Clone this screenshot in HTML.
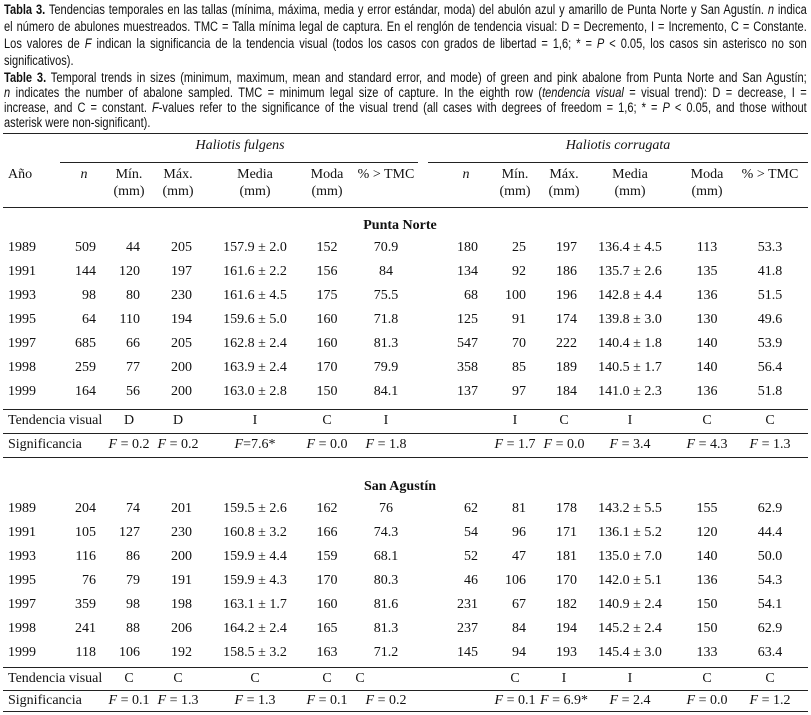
<!DOCTYPE html>
<html><head><meta charset="utf-8"><style>
body{margin:0;background:#fff;width:811px;height:715px;position:relative;overflow:hidden;color:#111}
.cl{position:absolute;left:4px;width:979px;font-family:"Liberation Sans",sans-serif;font-size:13.5px;line-height:16px;white-space:nowrap;transform-origin:0 50%;transform:scaleX(0.82);text-align:justify;text-align-last:justify}
.cl.last{text-align-last:left}
.t{position:absolute;font-family:"Liberation Serif",serif;font-size:14px;white-space:nowrap;transform:translate(-50%,-50%)}
.r{transform:translate(-100%,-50%)}
.l{transform:translate(0,-50%)}
.rule{position:absolute;height:1px;background:#222}
</style></head><body>
<div>
<div class="cl" style="top:2px"><b>Tabla 3.</b> Tendencias temporales en las tallas (mínima, máxima, media y error estándar, moda) del abulón azul y amarillo de Punta Norte y San Agustín. <i>n</i> indica</div>
<div class="cl" style="top:19px">el número de abulones muestreados. TMC = Talla mínima legal de captura. En el renglón de tendencia visual: D = Decremento, I = Incremento, C = Constante.</div>
<div class="cl" style="top:36px">Los valores de <i>F</i> indican la significancia de la tendencia visual (todos los casos con grados de libertad = 1,6; * = <i>P</i> &lt; 0.05, los casos sin asterisco no son</div>
<div class="cl last" style="top:53px">significativos).</div>
</div>
<div>
<div class="cl" style="top:70px"><b>Table 3.</b> Temporal trends in sizes (minimum, maximum, mean and standard error, and mode) of green and pink abalone from Punta Norte and San Agustín;</div>
<div class="cl" style="top:85px"><i>n</i> indicates the number of abalone sampled. TMC = minimum legal size of capture. In the eighth row (<i>tendencia visual</i> = visual trend): D = decrease, I =</div>
<div class="cl" style="top:100px">increase, and C = constant. <i>F</i>-values refer to the significance of the visual trend (all cases with degrees of freedom = 1,6; * = <i>P</i> &lt; 0.05, and those without</div>
<div class="cl last" style="top:115px">asterisk were non-significant).</div>
</div>
<div id="tbl"></div>
<script>
const years=["1989","1991","1993","1995","1997","1998","1999"];
const pnFul=[["509","44","205","157.9 ± 2.0","152","70.9"],["144","120","197","161.6 ± 2.2","156","84"],["98","80","230","161.6 ± 4.5","175","75.5"],["64","110","194","159.6 ± 5.0","160","71.8"],["685","66","205","162.8 ± 2.4","160","81.3"],["259","77","200","163.9 ± 2.4","170","79.9"],["164","56","200","163.0 ± 2.8","150","84.1"]];
const pnCor=[["180","25","197","136.4 ± 4.5","113","53.3"],["134","92","186","135.7 ± 2.6","135","41.8"],["68","100","196","142.8 ± 4.4","136","51.5"],["125","91","174","139.8 ± 3.0","130","49.6"],["547","70","222","140.4 ± 1.8","140","53.9"],["358","85","189","140.5 ± 1.7","140","56.4"],["137","97","184","141.0 ± 2.3","136","51.8"]];
const saFul=[["204","74","201","159.5 ± 2.6","162","76"],["105","127","230","160.8 ± 3.2","166","74.3"],["116","86","200","159.9 ± 4.4","159","68.1"],["76","79","191","159.9 ± 4.3","170","80.3"],["359","98","198","163.1 ± 1.7","160","81.6"],["241","88","206","164.2 ± 2.4","165","81.3"],["118","106","192","158.5 ± 3.2","163","71.2"]];
const saCor=[["62","81","178","143.2 ± 5.5","155","62.9"],["54","96","171","136.1 ± 5.2","120","44.4"],["52","47","181","135.0 ± 7.0","140","50.0"],["46","106","170","142.0 ± 5.1","136","54.3"],["231","67","182","140.9 ± 2.4","150","54.1"],["237","84","194","145.2 ± 2.4","150","62.9"],["145","94","193","145.4 ± 3.0","133","63.4"]];
const pnTrend=["D","D","I","C","I","I","C","I","C","C"];
const pnSig=["0.2","0.2","7.6*","0.0","1.8","1.7","0.0","3.4","4.3","1.3"];
const saTrend=["C","C","C","C","C","C","I","I","C","C"];
const saSig=["0.1","1.3","1.3","0.1","0.2","0.1","6.9*","2.4","0.0","1.2"];

const T=document.getElementById('tbl');
function txt(s,x,y,cls,html){const d=document.createElement('div');d.className='t '+(cls||'');d.style.left=x+'px';d.style.top=y+'px';if(html)d.innerHTML=s;else d.textContent=s;T.appendChild(d);return d;}
function rule(x1,x2,y){const d=document.createElement('div');d.className='rule';d.style.left=x1+'px';d.style.width=(x2-x1)+'px';d.style.top=y+'px';T.appendChild(d);return d;}
const colsL=[[96,'r'],[140,'r'],[192,'r'],[255,''],[327,''],[386,'']];
const colsR=[[478,'r'],[526,'r'],[577,'r'],[630,''],[707,''],[770,'']];
const trendX=[129,178,255,327,386,515,564,630,707,770];
const saTrendX=[129,178,255,327,360,515,564,630,707,770];

let e;
e=rule(3,808,133);
e=rule(60,418,162);
e=rule(428,808,162);
e=rule(3,808,207);
e=txt('<i>Haliotis fulgens</i>',240,146,'',1);
e=txt('<i>Haliotis corrugata</i>',618,146,'',1);
e=txt('Año',8,175,'l');
const hdr=[['<i>n</i>',84,466],['Mín.',129,515],['Máx.',178,564],['Media',255,630],['Moda',327,707],['% &gt; TMC',386,770]];
hdr.forEach((h,i)=>{
  e=txt(h[0],h[1],175,'',1);
  e=txt(h[0],h[2],175,'',1);
  if(i>=1&&i<=4){
    e=txt('(mm)',h[1],192);
    e=txt('(mm)',h[2],192);
  }
});
function section(title,ty,y0,ful,cor,trend,sig,tx,rTop){
  e=txt('<b>'+title+'</b>',400,ty,'',1);
  years.forEach((yr,i)=>{
    const y=y0+i*24;
    e=txt(yr,8,y,'l');
    ful[i].forEach((v,j)=>{e=txt(v,colsL[j][0],y,colsL[j][1]);});
    cor[i].forEach((v,j)=>{e=txt(v,colsR[j][0],y,colsR[j][1]);});
  });
  const r1=rTop[0],r2=rTop[1],r3=rTop[2];
  e=rule(3,808,r1);
  e=rule(3,808,r2);
  e=rule(3,808,r3);
  const ty1=(r1+r2)/2, ty2=(r2+r3)/2;
  e=txt('Tendencia visual',8,ty1,'l');
  e=txt('Significancia',8,ty2,'l');
  trend.forEach((v,k)=>{e=txt(v,tx[k],ty1);});
  sig.forEach((v,k)=>{const s=v.indexOf('7.6')===0?'<i>F</i>='+v:'<i>F</i> = '+v;e=txt(s,trendX[k],ty2,'',1);});
}
section('Punta Norte',226,248,pnFul,pnCor,pnTrend,pnSig,trendX,[409,433,457]);
section('San Agustín',487,509,saFul,saCor,saTrend,saSig,saTrendX,[667,690,711]);
</script>
</body></html>
